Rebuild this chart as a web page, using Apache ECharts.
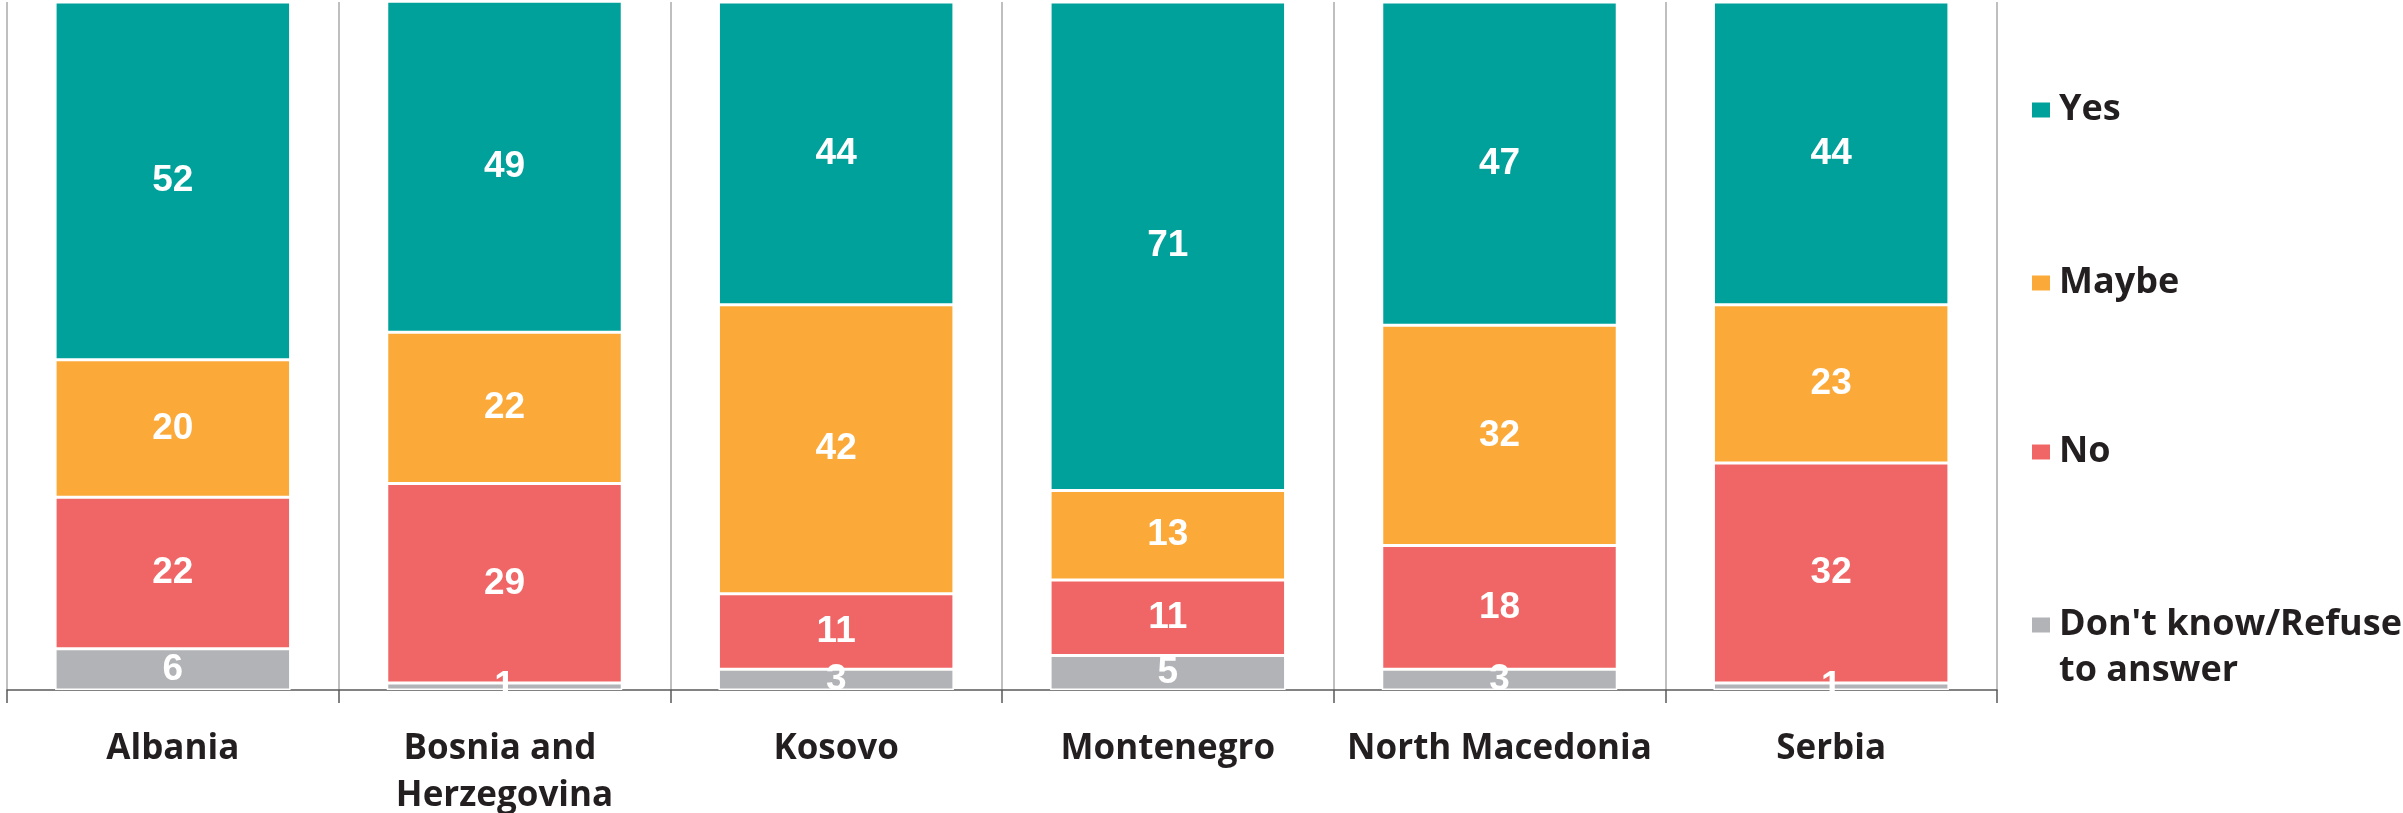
<!DOCTYPE html>
<html>
<head>
<meta charset="utf-8">
<script src="https://cdn.jsdelivr.net/npm/echarts@6/dist/echarts.min.js"></script>
<style>
  html, body { margin: 0; padding: 0; background: #fff; }
  #chart { width: 2403px; height: 813px; }
</style>
</head>
<body>
<div id="chart"></div>
<script>
(function () {
    'use strict';

    // Survey answers per country, in percent
    const countries = ['Albania', 'Bosnia and Herzegovina', 'Kosovo', 'Montenegro', 'North Macedonia', 'Serbia'];
    const yes = [52, 49, 44, 71, 47, 44];
    const maybe = [20, 22, 42, 13, 32, 23];
    const no = [22, 29, 11, 11, 18, 32];
    const dontKnow = [6, 1, 3, 5, 3, 1];

    const dkName = "Don't know/Refuse to answer";
    const colors = { Yes: '#00A19B', Maybe: '#FBAA3A', No: '#F06666' };
    colors[dkName] = '#B2B3B6';

    const textColor = '#231F20';
    const catFont = 'Open Sans';

    function barSeries (name, data) {
        return {
            name: name,
            type: 'bar',
            stack: 'total',
            barWidth: '71%',
            data: data,
            itemStyle: { color: colors[name], borderColor: '#fff', borderWidth: 1.5 },
            label: {
                show: true,
                position: 'inside',
                color: '#fff',
                fontSize: 37,
                fontWeight: 'bold',
                fontFamily: 'Liberation Sans'
            }
        };
    }

    // one legend per entry so each can sit at its own height
    const legendOrder = ['Yes', 'Maybe', 'No', dkName];
    const legendTops = [87, 260, 429, 556];
    const legends = legendOrder.map(function (name, i) {
        return {
            data: [name],
            orient: 'vertical',
            left: 2030,
            top: legendTops[i],
            padding: 0,
            itemWidth: 20,
            itemHeight: 17,
            itemGap: 0,
            icon: 'rect',
            selectedMode: false,
            formatter: function (n) {
                return n === dkName ? "\nDon't know/Refuse\nto answer" : n;
            },
            textStyle: {
                color: textColor,
                fontSize: 36,
                fontWeight: 'bold',
                fontFamily: catFont,
                lineHeight: 46,
                padding: [0, 0, 0, 3]
            }
        };
    });

    const chart = echarts.init(document.getElementById('chart'));
    chart.setOption({
        animation: false,
        backgroundColor: '#fff',
        legend: legends,
        grid: { left: 7, right: 406, top: 2, bottom: 123, containLabel: false, outerBoundsMode: 'none' },
        xAxis: {
            type: 'category',
            data: countries,
            axisLine: { lineStyle: { color: '#595959', width: 1.5 } },
            axisTick: { show: true, length: 13, lineStyle: { color: '#595959', width: 1.5 } },
            splitLine: { show: true, lineStyle: { color: '#BFBFBF', width: 2 } },
            axisLabel: {
                interval: 0,
                margin: 36,
                color: textColor,
                fontSize: 35,
                fontWeight: 'bold',
                fontFamily: catFont,
                lineHeight: 47,
                width: 325,
                overflow: 'break'
            }
        },
        yAxis: { type: 'value', min: 0, max: 100, show: false },
        series: [
            barSeries(dkName, dontKnow),
            barSeries('No', no),
            barSeries('Maybe', maybe),
            barSeries('Yes', yes)
        ]
    });
}());
</script>
</body>
</html>
